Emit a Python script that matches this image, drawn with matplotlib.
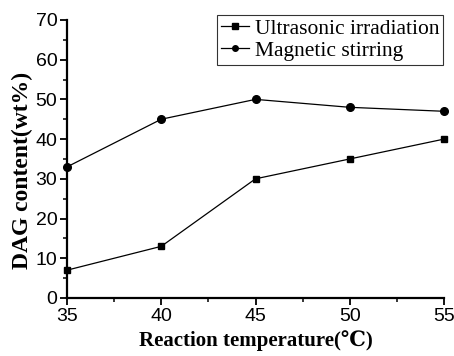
import matplotlib
matplotlib.use("Agg")
import matplotlib.pyplot as plt
from matplotlib.ticker import MultipleLocator
from matplotlib import font_manager

temperature = [35, 40, 45, 50, 55]
ultrasonic = [7, 13, 30, 35, 40]
magnetic = [33, 45, 50, 48, 47]

names = {f.name for f in font_manager.fontManager.ttflist}
tick_font = "Liberation Sans Narrow" if "Liberation Sans Narrow" in names else "Liberation Sans"
serif = ["Liberation Serif", "DejaVu Serif", "Noto Sans CJK SC"]

fig = plt.figure(figsize=(4.54, 3.56), dpi=100)
ax = fig.add_axes([0.1476, 0.163, 0.8304, 0.781])

ax.plot(temperature, ultrasonic, "k-s", lw=0.9, ms=5, label="Ultrasonic irradiation", clip_on=False, zorder=3)
ax.plot(temperature, magnetic, "k-o", lw=0.9, ms=5.5, label="Magnetic stirring", clip_on=False, zorder=3)

ax.set_xlim(35, 55)
ax.set_ylim(0, 70)
ax.xaxis.set_major_locator(MultipleLocator(5))
ax.xaxis.set_minor_locator(MultipleLocator(2.5))
ax.yaxis.set_major_locator(MultipleLocator(10))
ax.yaxis.set_minor_locator(MultipleLocator(5))

for s in ["top", "right"]:
    ax.spines[s].set_visible(False)
for s in ["left", "bottom"]:
    ax.spines[s].set_linewidth(1.6)
ax.tick_params(which="major", direction="out", length=5, width=1.3, labelsize=14, pad=2)
ax.tick_params(which="minor", direction="out", length=3, width=1.1)
for lab in ax.get_xticklabels() + ax.get_yticklabels():
    lab.set_fontfamily(tick_font)

ax.set_xlabel("Reaction temperature(\u2103)", family=serif, fontweight="bold", fontsize=15, labelpad=4)
ax.set_ylabel("DAG content(wt%)", family=serif, fontweight="bold", fontsize=17, va="center")
ax.yaxis.set_label_coords(-0.117, 0.46)

leg = ax.legend(loc="upper right", bbox_to_anchor=(1.01, 1.035), prop={"family": "Liberation Serif", "size": 15.5},
                frameon=True, fancybox=False, edgecolor="black", borderpad=0.2, handlelength=1.3,
                handletextpad=0.25, labelspacing=0.08, borderaxespad=0.2)
leg.get_frame().set_linewidth(0.8)
for h in leg.legend_handles:
    h.set_markersize(4)

fig.savefig("out.png", dpi=100)
